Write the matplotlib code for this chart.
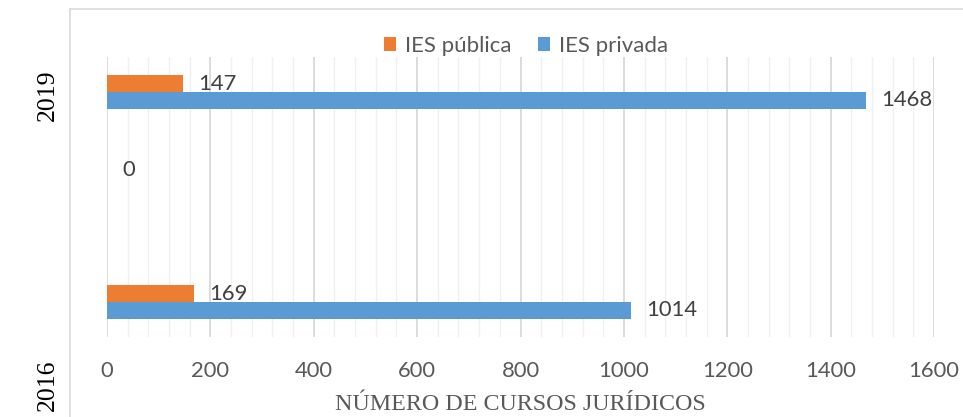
import numpy as np
import matplotlib.pyplot as plt
from matplotlib.patches import Rectangle
from matplotlib.ticker import MultipleLocator

# categories from bottom to top (two empty rows between the years)
categorias = ['2016', '', '', '2019']
publica = [169, None, None, 147]
privada = [1014, None, 0, 1468]
xticks = [0, 200, 400, 600, 800, 1000, 1200, 1400, 1600]

cor_pub = '#ED7D31'
cor_priv = '#5B9BD5'
cinza = '#595959'

fig = plt.figure(figsize=(9.63, 4.17), dpi=100)
ax = fig.add_axes([107 / 963, 80 / 417, 827 / 963, 280 / 417])

# outer chart frame
fig.patches.append(Rectangle((70 / 963, -0.1), 1.0, 1.1 - 9 / 417,
                             transform=fig.transFigure, fill=False,
                             edgecolor='#d9d9d9', lw=1.2, zorder=0))

y = np.arange(len(categorias))
h = 0.236
for vals, off, cor, nome in [(publica, h / 2, cor_pub, 'IES pública'),
                             (privada, -h / 2, cor_priv, 'IES privada')]:
    vy = [yi + off for yi, v in zip(y, vals) if v is not None]
    vv = [v for v in vals if v is not None]
    ax.barh(vy, vv, height=h, color=cor, label=nome, zorder=3)
    for yi, v in zip(vy, vv):
        ax.annotate(str(v), (v, yi), xytext=(11, 0), textcoords='offset points',
                    ha='left', va='center', fontsize=15.8, family='Lato',
                    color='#404040', zorder=4)

ax.set_xlim(0, 1600)
ax.set_ylim(-0.5, 3.5)
ax.set_xticks(xticks)
ax.xaxis.set_minor_locator(MultipleLocator(40))
ax.grid(axis='x', which='major', color='#d9d9d9', lw=1.3, zorder=0)
ax.grid(axis='x', which='minor', color='#f0f0f0', lw=1.0, zorder=0)
ax.set_yticks([])
for s in ax.spines.values():
    s.set_visible(False)
ax.tick_params(axis='x', which='both', length=0, pad=17, labelsize=15.8,
               labelcolor=cinza)
for lab in ax.get_xticklabels():
    lab.set_family('Lato')

fig.text(520 / 963, 1 - 404 / 417, 'NÚMERO DE CURSOS JURÍDICOS', ha='center',
         va='center', fontsize=17.3, family='Liberation Serif', color=cinza)

fig.text(48 / 963, 1 - 95 / 417, '2019', rotation=90, ha='center', va='center',
         fontsize=18.5, family='Liberation Serif', color='black')
fig.text(48 / 963, 1 - 385 / 417, '2016', rotation=90, ha='center', va='center',
         fontsize=18.5, family='Liberation Serif', color='black')

leg = fig.legend(loc='center', bbox_to_anchor=(526 / 963, 1 - 46 / 417), ncol=2,
                 frameon=False, handlelength=0.55, handleheight=0.55,
                 handletextpad=0.4, columnspacing=1.2,
                 prop={'family': 'Lato', 'size': 16})
for t in leg.get_texts():
    t.set_color(cinza)

fig.savefig('out.png', dpi=100)
